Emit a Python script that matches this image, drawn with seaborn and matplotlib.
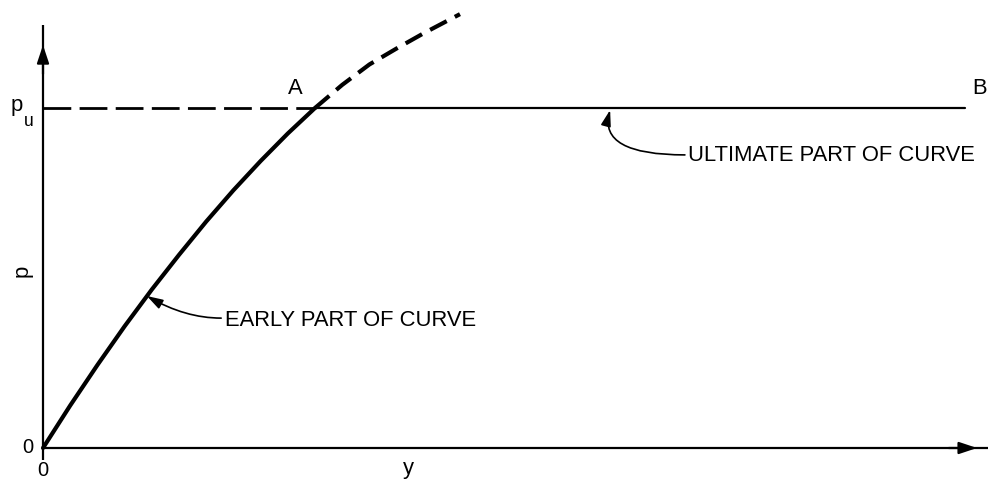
import matplotlib
matplotlib.use("Agg")
import matplotlib.pyplot as plt
import seaborn as sns

# Load-deflection (p-y) curve: early part (solid), continuation beyond A (dashed)
early_y = [0.0, 0.1, 0.2, 0.3, 0.4, 0.5, 0.6, 0.7, 0.8, 0.9, 1.0]
early_p = [0.0, 0.125, 0.244, 0.358, 0.466, 0.568, 0.666, 0.758, 0.844, 0.925, 1.0]
beyond_y = [1.0, 1.1, 1.2, 1.3, 1.4, 1.533]
beyond_p = [1.0, 1.068, 1.128, 1.175, 1.22, 1.276]

# Ultimate resistance p_u and the horizontal part of the curve A-B
p_u = 1.0
ultimate_y = [1.0, 3.39]
lead_y = [0.0, 1.0]

sns.set_theme(style="white")
plt.rcParams["font.family"] = ["Liberation Sans", "DejaVu Sans"]
plt.rcParams["text.color"] = "black"

fig = plt.figure(figsize=(9.88, 4.82), dpi=100)
ax = fig.add_axes([0, 0, 1, 1])
ax.set_xlim(-0.1581, 3.4743)
ax.set_ylim(-0.1, 1.3176)
ax.axis("off")

k = "black"
fs = 15.8

# axes with arrowheads
ax.plot([0, 0], [-0.035, 1.244], color=k, lw=1.6, solid_capstyle="butt")
ax.plot([0, 3.474], [0, 0], color=k, lw=1.6, solid_capstyle="butt")
ax.annotate("", xy=(0, 1.185), xytext=(0, 1.10),
            arrowprops=dict(arrowstyle="-|>,head_length=0.9,head_width=0.3",
                            color=k, lw=1.6, shrinkA=0, shrinkB=0))
ax.annotate("", xy=(3.434, 0), xytext=(3.33, 0),
            arrowprops=dict(arrowstyle="-|>,head_length=0.9,head_width=0.3",
                            color=k, lw=1.6, shrinkA=0, shrinkB=0))

# horizontal p_u line: dashed up to A, solid from A to B
ax.plot(lead_y, [p_u, p_u], color=k, lw=2.0, dashes=(10, 3))
sns.lineplot(x=ultimate_y, y=[p_u, p_u], ax=ax, color=k, lw=1.6)

# p-y curve
sns.lineplot(x=early_y, y=early_p, ax=ax, color=k, lw=3.0, sort=False)
sns.lineplot(x=beyond_y, y=beyond_p, ax=ax, color=k, lw=3.0, sort=False)
ax.lines[-1].set_dashes((4.5, 2.2))

# labels
ax.text(-0.095, 1.008, "p", fontsize=fs, ha="center", va="center")
ax.text(-0.052, 0.96, "u", fontsize=fs * 0.8, ha="center", va="center")
ax.text(-0.077, 0.52, "p", fontsize=fs, rotation=90, ha="center", va="center")
ax.text(-0.055, 0.0, "0", fontsize=14.5, ha="center", va="center")
ax.text(0.0, -0.066, "0", fontsize=14.5, ha="center", va="center")
ax.text(1.342, -0.06, "y", fontsize=fs, ha="center", va="center")
ax.text(0.926, 1.056, "A", fontsize=fs, ha="center", va="center")
ax.text(3.445, 1.056, "B", fontsize=fs, ha="center", va="center")

# callouts
arrow = dict(arrowstyle="-|>,head_length=0.8,head_width=0.25",
             color=k, lw=1.2, shrinkA=0, shrinkB=0)
ax.text(0.67, 0.376, "EARLY PART OF CURVE", fontsize=fs, ha="left", va="center")
ax.annotate("", xy=(0.382, 0.447), xytext=(0.655, 0.382),
            arrowprops=dict(arrow, connectionstyle="angle3,angleA=180,angleB=150"))
ax.text(2.37, 0.859, "ULTIMATE PART OF CURVE", fontsize=fs, ha="left", va="center")
ax.annotate("", xy=(2.085, 0.994), xytext=(2.36, 0.862),
            arrowprops=dict(arrow, connectionstyle="angle3,angleA=180,angleB=75"))

fig.savefig("out.png", dpi=100, facecolor="white")
